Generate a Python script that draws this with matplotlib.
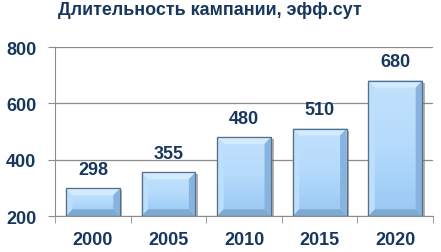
import numpy as np
import matplotlib
matplotlib.use('Agg')
import matplotlib.pyplot as plt
from matplotlib.patches import Polygon, Rectangle
from matplotlib.colors import LinearSegmentedColormap

plt.rcParams['font.family'] = ['Liberation Sans', 'DejaVu Sans']

# данные
years = ['2000', '2005', '2010', '2015', '2020']
duration = [298, 355, 480, 510, 680]
title = 'Длительность кампании, эфф.сут'

NAVY = '#17375e'
GRID = '#8c8c8c'
EDGE = '#5a6f86'

fig = plt.figure(figsize=(4.41, 2.53), dpi=100)
ax = fig.add_axes([0.125, 0.142, 0.857, 0.668])

x = np.arange(len(years))
bw = 0.71
base = 200
bars = ax.bar(x, np.array(duration) - base, bottom=base, width=bw,
              color='#a6d3fb', edgecolor=EDGE, linewidth=0.8, zorder=3)

# объёмный эффект: градиент, тень и фаски
face = LinearSegmentedColormap.from_list('face', ['#98c8f3', '#b4dafc', '#c3e2fd'])
grad = np.linspace(0, 1, 64).reshape(-1, 1)
dx, dy = 0.085, 24
for b in bars:
    x0, y0 = b.get_x(), b.get_y()
    w, h = b.get_width(), b.get_height()
    x1, y1 = x0 + w, y0 + h
    ax.add_patch(Rectangle((x0 + 0.035, y0), w, h - 7, color='#6d747b',
                           alpha=0.55, zorder=2, linewidth=0))
    ax.imshow(grad, extent=[x0, x1, y0, y1], origin='lower', aspect='auto',
              cmap=face, zorder=3.5, interpolation='bilinear')
    ax.add_patch(Polygon([(x0, y1), (x1, y1), (x1 - dx, y1 - dy), (x0 + dx, y1 - dy)],
                         closed=True, facecolor='#d3ebff', edgecolor='none', zorder=4))
    ax.add_patch(Polygon([(x0, y1), (x0 + dx, y1 - dy), (x0 + dx, y0 + dy), (x0, y0)],
                         closed=True, facecolor='#bcdffc', edgecolor='none', zorder=4))
    ax.add_patch(Polygon([(x1, y1), (x1 - dx, y1 - dy), (x1 - dx, y0 + dy), (x1, y0)],
                         closed=True, facecolor='#86b4de', edgecolor='none', zorder=4))
    ax.add_patch(Polygon([(x0, y0), (x0 + dx, y0 + dy), (x1 - dx, y0 + dy), (x1, y0)],
                         closed=True, facecolor='#7ea9d2', edgecolor='none', zorder=4))
    ax.add_patch(Rectangle((x0, y0), w, h, facecolor='none', edgecolor=EDGE,
                           linewidth=0.9, zorder=5))

for xi, v in zip(x, duration):
    ax.text(xi, v + 38, str(v), ha='center', va='bottom', fontsize=13,
            fontweight='bold', color=NAVY, zorder=6)

ax.set_xlim(-0.5, len(years) - 0.5)
ax.set_ylim(200, 800)
ax.set_yticks([200, 400, 600, 800])
ax.set_xticks(x)
ax.set_xticklabels(years)
ax.set_xticks(np.arange(len(years) + 1) - 0.5, minor=True)
ax.tick_params(axis='x', which='major', length=0, pad=11)
ax.tick_params(axis='x', which='minor', length=5, color=GRID, direction='out')
ax.tick_params(axis='y', length=5, color=GRID, pad=8.5)
for lab in ax.get_xticklabels() + ax.get_yticklabels():
    lab.set_fontsize(13)
    lab.set_fontweight('bold')
    lab.set_color(NAVY)

ax.grid(axis='y', color=GRID, linewidth=0.9, zorder=0)
for s in ['top', 'right']:
    ax.spines[s].set_visible(False)
for s in ['left', 'bottom']:
    ax.spines[s].set_color(GRID)

fig.text(0.476, 0.957, title, ha='center', va='center', fontsize=12.9,
         fontweight='bold', color=NAVY)

fig.savefig('out.png', dpi=100)
